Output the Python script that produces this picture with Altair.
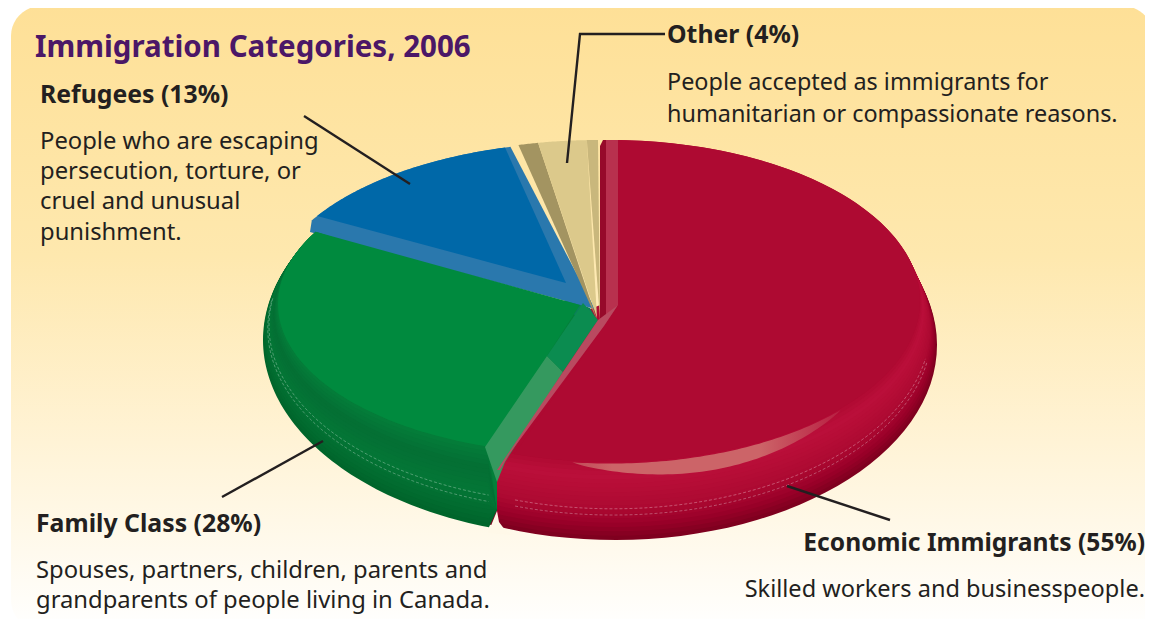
import math
import altair as alt
import pandas as pd

# ---------- values ----------
categories = ["Economic Immigrants", "Family Class", "Refugees", "Other"]
shares = [55, 28, 13, 4]

# ---------- text ----------
FONT = "Noto Sans"
title_text = ["Immigration Categories, 2006"]
title_x = [35]
title_y = [57]
heads = ["Refugees (13%)", "Other (4%)", "Family Class (28%)"]
heads_x = [40, 667, 36]
heads_y = [103, 43, 532]
head_right = ["Economic Immigrants (55%)"]
body = ["People who are escaping", "persecution, torture, or", "cruel and unusual", "punishment.",
        "Spouses, partners, children, parents and", "grandparents of people living in Canada."]
body_x = [40, 40, 40, 40, 36, 36]
body_y = [149, 179, 209, 240, 578, 608]
body_other = ["People accepted as immigrants for", "humanitarian or compassionate reasons."]
body_other_x = [667, 667]
body_other_y = [90, 122]
body_right = ["Skilled workers and businesspeople."]

# ---------- leader lines ----------
leader_id = [0, 0, 1, 1, 1, 2, 2, 3, 3]
leader_x = [304, 410, 665, 580, 567, 222, 323, 890, 787]
leader_y = [116, 184, 34, 34, 163, 497, 441, 520, 486]

# ---------- shares to angles ----------
edges = [0]
for s in shares:
    edges.append(edges[-1] + s * 3.6)
R0, R1, G1, B1, T1 = edges


def arc(e, t0, t1, n=80):
    cx, cy, a, b = e
    pts = []
    for i in range(n + 1):
        t = math.radians(t0 + (t1 - t0) * i / n)
        pts.append((cx + a * math.sin(t), cy - b * math.cos(t)))
    return pts


def mix(e0, e1, t):
    return tuple(p + (q - p) * t for p, q in zip(e0, e1))


def hex_mix(stops, t):
    for (t0, c0), (t1, c1) in zip(stops, stops[1:]):
        if t <= t1:
            k = (t - t0) / (t1 - t0)
            rgb = [int(c0[i:i + 2], 16) * (1 - k) + int(c1[i:i + 2], 16) * k for i in (1, 3, 5)]
            return "#%02x%02x%02x" % tuple(round(v) for v in rgb)
    return stops[-1][1]


polys = []


def add(points, color):
    pid = len(polys)
    polys.append((pid, points, color))


red_face = (610, 301, 310, 161)
red_out = (615, 345, 322, 195)
green_face = (582, 304, 304, 150)
green_out = (590, 340, 327, 197)
blue_face = (590, 297, 320, 155)
tan_face = (598, 300, 320, 160)

red_stops = [(0, "#ae0a32"), (0.2, "#bb0f3a"), (0.6, "#ae0a32"), (0.82, "#9a0029"), (1, "#7f001f")]
green_stops = [(0, "#047f3a"), (0.3, "#046f34"), (0.6, "#047636"), (1, "#00652b")]
BANDS = 18

# red rim
for k in range(BANDS, -1, -1):
    t = k / BANDS
    e = mix(red_face, red_out, t)
    add(arc(e, R0, 232) + [(e[0], e[1])], hex_mix(red_stops, t))

# filler behind the point where the slices meet
add([(565, 298), (590, 308), (598, 322), (560, 345)], "#0b7f5a")

# blue slice
add(arc(blue_face, G1 + 0.8, B1) + [(595, 309), (310, 232)], "#2a78ad")
add(arc(blue_face, G1 + 2.7, B1 - 1.0) + [(566, 283)], "#0068a8")

# tan slice
add(arc(tan_face, B1, B1 + 3.6, 12) + [(597, 320)], "#a39461")
add(arc(tan_face, B1 + 3.6, T1 - 2, 30) + [(597, 318)], "#dcc98b")
add(arc(tan_face, T1 - 2, T1, 6) + [(600, 320)], "#c9b77c")

# green rim
green_close = [(497, 510), (497, 470), (590, 320)]
for k in range(BANDS, -1, -1):
    t = k / BANDS
    e = mix(green_face, green_out, t)
    add(arc(e, G1, R1) + green_close, hex_mix(green_stops, t))
# gap between the green tip and the red rim
add([(497, 511), (499, 522), (505, 530), (514, 535), (488, 533)], "#fff8e8")
# green face and bevels
add(arc(green_face, R1, G1) + [(580, 305)], "#008a3e")
add([(485, 447), (547, 356), (563, 372), (505, 462), (497, 482)], "#35995f")
add([(547, 356), (583, 303), (598, 320), (563, 372)], "#0b8c50")
# red face and bevels
add(arc(red_face, R0 + 1.5, R1) + [(604, 326), (618, 305)], "#ae0a32")
add([(600, 146), (603, 140), (606, 140), (606, 316), (600, 324)], "#960a2a")
add([(606, 140), (618, 140), (618, 305), (606, 316)], "#b8314e")
add([(497, 470), (598, 320), (618, 305), (604, 326), (510, 453), (500, 470)], "#b94a60")

poly_rows = []
for pid, pts, color in polys:
    for i, (x, y) in enumerate(pts):
        poly_rows.append({"pid": pid, "i": i, "x": x, "y": y, "color": color})
poly_df = pd.DataFrame(poly_rows)

# highlight on the red rim
n = 60
upper, lower = [], []
for i in range(n + 1):
    u = i / n
    th = 132 + (187 - 132) * u
    bump = math.sin(math.pi * u) ** 0.8
    e_up = mix(red_face, red_out, 0.02)
    e_lo = mix(red_face, red_out, 0.02 + 0.2 * bump)
    upper.append(arc(e_up, th, th, 1)[0])
    lower.append(arc(e_lo, th, th, 1)[0])
hl_df = pd.DataFrame([{"i": i, "x": x, "y": y} for i, (x, y) in enumerate(upper + lower[::-1])])

# thin light seams on the rims
seam_rows = []
sid = 0
for tt in (0.68, 0.6):
    for e0, e1, t0, t1 in [(green_face, green_out, G1 - 20, R1), (red_face, red_out, R1, 100)]:
        for i, (x, y) in enumerate(arc(mix(e0, e1, tt), t0, t1)):
            seam_rows.append({"sid": sid, "i": i, "x": x, "y": y})
        sid += 1
seam_df = pd.DataFrame(seam_rows)

# ---------- scales: picture pixels, page margin taken off ----------
X = alt.Scale(domain=[8, 1145], nice=False, zero=False)
Y = alt.Scale(domain=[619, 8], nice=False, zero=False)
xq = lambda f="x": alt.X(f"{f}:Q", scale=X, axis=None)
yq = lambda f="y": alt.Y(f"{f}:Q", scale=Y, axis=None)

bg = alt.Chart(pd.DataFrame({"x": [11], "x2": [1153], "y": [6], "y2": [630]})).mark_rect(
    cornerRadius=30,
    color=alt.Gradient(
        gradient="linear", x1=0, x2=0, y1=0, y2=1,
        stops=[
            alt.GradientStop(offset=0, color="#fee097"),
            alt.GradientStop(offset=0.4, color="#fee8ae"),
            alt.GradientStop(offset=0.7, color="#fff3d6"),
            alt.GradientStop(offset=0.95, color="#fffdf8"),
            alt.GradientStop(offset=1, color="#ffffff"),
        ],
    ),
).encode(x=xq(), x2="x2:Q", y=yq(), y2="y2:Q")

pie = alt.Chart(poly_df).mark_line(strokeWidth=0, interpolate="linear").encode(
    x=xq(), y=yq(),
    fill=alt.Fill("color:N", scale=None),
    detail="pid:N",
    order="i:Q",
)

highlight = alt.Chart(hl_df).mark_line(
    strokeWidth=0,
    fill=alt.Gradient(
        gradient="linear", x1=1, x2=0, y1=0, y2=0,
        stops=[
            alt.GradientStop(offset=0, color="#b81f42"),
            alt.GradientStop(offset=0.3, color="#cc6468"),
            alt.GradientStop(offset=0.85, color="#cc6468"),
            alt.GradientStop(offset=1, color="#c24a58"),
        ],
    ),
).encode(x=xq(), y=yq(), order="i:Q")

seam = alt.Chart(seam_df).mark_line(
    stroke="#ffffff", strokeWidth=0.6, strokeOpacity=0.5, strokeDash=[3, 2]
).encode(x=xq(), y=yq(), detail="sid:N", order="i:Q")

leaders = alt.Chart(pd.DataFrame({"id": leader_id, "x": leader_x, "y": leader_y, "i": range(len(leader_x))})).mark_line(
    stroke="#231f20", strokeWidth=2.4
).encode(x=xq(), y=yq(), detail="id:N", order="i:Q")


def text_layer(labels, xs, ys, size, bold, color="#231f20", align="left"):
    df = pd.DataFrame({"t": labels, "x": xs, "y": ys})
    return alt.Chart(df).mark_text(
        font=FONT, fontSize=size, fontWeight="bold" if bold else "normal",
        color=color, align=align, baseline="alphabetic",
    ).encode(x=xq(), y=yq(), text="t:N")


chart = alt.layer(
    bg, pie, highlight, seam, leaders,
    text_layer(title_text, title_x, title_y, 29.5, True, "#4b1767"),
    text_layer(heads, heads_x, heads_y, 24.8, True),
    text_layer(head_right, [1145], [551], 24.6, True, align="right"),
    text_layer(body, body_x, body_y, 23.8, False),
    text_layer(body_other, body_other_x, body_other_y, 23.4, False),
    text_layer(body_right, [1145], [597], 23.55, False, align="right"),
).properties(width=1137, height=611, padding=0, autosize=alt.AutoSizeParams(type="none")).configure_view(stroke=None)

chart.save("out.html", embed_options={"renderer": "svg", "actions": False})
